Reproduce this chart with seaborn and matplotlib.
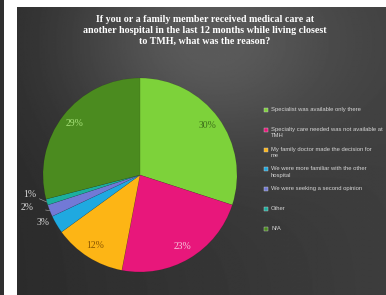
import numpy as np
import matplotlib
matplotlib.use("Agg")
import matplotlib.pyplot as plt
from matplotlib.patches import Rectangle
import seaborn as sns

reasons = [
    "Specialist was available only there",
    "Specialty care needed was not available at\nTMH",
    "My family doctor made the decision for\nme",
    "We were more familiar with the other\nhospital",
    "We were seeking a second opinion",
    "Other",
    "N/A",
]
shares = [30, 23, 12, 3, 2, 1, 29]
title = ("If you or a family member received medical care at\n"
         "another hospital in the last 12 months while living closest\n"
         "to TMH, what was the reason?")

sns.set_theme(style="dark")
plt.rcParams["font.family"] = ["Liberation Serif", "DejaVu Serif"]

palette = sns.color_palette(["#7dd23a", "#e8177b", "#fdb515", "#1fa9e0",
                             "#7279d6", "#1caf9f", "#4b8b1f"])
label_colors = ["#3d6e1a", "#f7c6dc", "#8a5600", "#d8d8d8", "#d8d8d8", "#d8d8d8", "#a8e27a"]

W, H = 386, 295
fig = plt.figure(figsize=(W / 100, H / 100), dpi=100, facecolor="white")

# dark panel with soft radial gradient
bg = fig.add_axes([17 / W, 0, 1 - 17 / W, 1 - 7 / H])
gx, gy = np.meshgrid(np.linspace(0, 1, 300), np.linspace(0, 1, 240))
shade = 0.17 + 0.07 * gx + 0.15 * np.exp(-((gx - 0.5) ** 2 / 0.14 + (gy - 0.12) ** 2 / 0.14))
bg.imshow(shade, cmap="gray", vmin=0, vmax=1, aspect="auto", extent=(0, 1, 1, 0))
bg.set_axis_off()
strip = fig.add_axes([0, 0, 4 / W, 1])
strip.set_facecolor("#2f2f2f")
strip.set_xticks([])
strip.set_yticks([])
for s in strip.spines.values():
    s.set_visible(False)

fig.text(205 / W, 1 - 15 / H, title, ha="center", va="top", color="white",
         fontsize=7.2, fontweight="bold", linespacing=1.25)

# pie
cx, cy, r = 140, 175, 97
ax = fig.add_axes([(cx - r) / W, (H - cy - r) / H, 2 * r / W, 2 * r / H])
wedges, _ = ax.pie(shares, colors=palette, startangle=90, counterclock=False,
                   radius=1, wedgeprops=dict(linewidth=0.3, edgecolor="#00000030"))
ax.set_xlim(-1, 1)
ax.set_ylim(-1, 1)
ax.set_axis_off()

small_text = {3: (-1.0, -0.49), 4: (-1.16, -0.33), 5: (-1.14, -0.20)}
for i, (w, v) in enumerate(zip(wedges, shares)):
    mid = np.deg2rad((w.theta1 + w.theta2) / 2)
    if v >= 10:
        ax.text(0.86 * np.cos(mid), 0.86 * np.sin(mid), f"{v}%", ha="center", va="center",
                fontsize=7, color=label_colors[i], clip_on=False)
    else:
        tx, ty = small_text[i]
        ax.annotate(f"{v}%", xy=(np.cos(mid), np.sin(mid)), xytext=(tx, ty),
                    ha="center", va="center", fontsize=7, color=label_colors[i],
                    annotation_clip=False,
                    arrowprops=dict(arrowstyle="-", color="#aaaaaa", lw=0.4,
                                    shrinkA=6, shrinkB=0) if i != 3 else None)

# legend
for i, lab in enumerate(reasons):
    y = 110 + 19.8 * i
    fig.patches.append(Rectangle(((264) / W, 1 - (y + 2) / H), 4 / W, 4 / H,
                                 transform=fig.transFigure, facecolor=palette[i],
                                 edgecolor="#cccccc", linewidth=0.3))
    fig.text(271 / W, 1 - (y - 3) / H, lab, ha="left", va="top", color="#d6d6d6",
             fontsize=4.2, family=["Liberation Sans Narrow", "Liberation Sans"],
             linespacing=1.3)

fig.savefig("out.png", dpi=100, facecolor="white")
